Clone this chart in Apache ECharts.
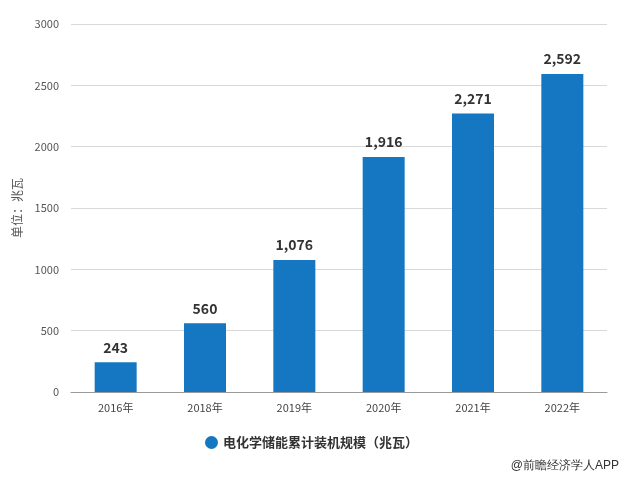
<!DOCTYPE html>
<html><head><meta charset="utf-8">
<script src="https://cdn.jsdelivr.net/npm/echarts@6/dist/echarts.min.js"></script>
<style>html,body{margin:0;padding:0;background:#fff}#c{width:623px;height:477px}</style>
</head><body><div id="c"></div>
<script>
const categories = ['2016年','2018年','2019年','2020年','2021年','2022年'];
const values = [243, 560, 1076, 1916, 2271, 2592];
const seriesName = '电化学储能累计装机规模（兆瓦）';
const yAxisName = '单位：兆瓦';
const sourceText = '@前瞻经济学人APP';

const chart = echarts.init(document.getElementById('c'));
chart.setOption({
  animation: false,
  textStyle: {fontFamily: '"Noto Sans CJK SC", "Noto Sans", sans-serif'},
  grid: {left: 71, right: 16, top: 24, bottom: 85},
  legend: {
    data: [seriesName], bottom: 23, left: 'center', icon: 'circle', itemWidth: 13, itemHeight: 13, itemGap: 8,
    textStyle: {fontSize: 13, fontWeight: 'bold', color: '#333'}
  },
  graphic: [{type: 'text', right: 4, bottom: 5, style: {text: sourceText, fontSize: 12, fill: '#333', font: '12px "Noto Sans CJK SC", sans-serif'}}],
  xAxis: {
    type: 'category', data: categories,
    axisLine: {lineStyle: {color: '#9a9a9a'}},
    axisTick: {alignWithLabel: true, lineStyle: {color: '#9a9a9a'}},
    axisLabel: {color: '#444', fontSize: 11, margin: 10}
  },
  yAxis: {
    type: 'value', min: 0, max: 3000, interval: 500,
    name: yAxisName, nameLocation: 'middle', nameGap: 48, nameRotate: 90,
    nameTextStyle: {color: '#555', fontSize: 12},
    axisLine: {show: false}, axisTick: {show: false},
    axisLabel: {color: '#555', fontSize: 11, margin: 12, formatter: v => String(v)},
    splitLine: {lineStyle: {color: '#d9d9d9'}}
  },
  series: [{
    name: seriesName, type: 'bar', data: values, barWidth: 42,
    itemStyle: {color: '#1577c2'},
    label: {
      show: true, position: 'top', distance: 8, color: '#333', fontSize: 14, fontWeight: 'bold',
      formatter: p => p.value.toLocaleString('en-US')
    }
  }]
});
</script></body></html>
